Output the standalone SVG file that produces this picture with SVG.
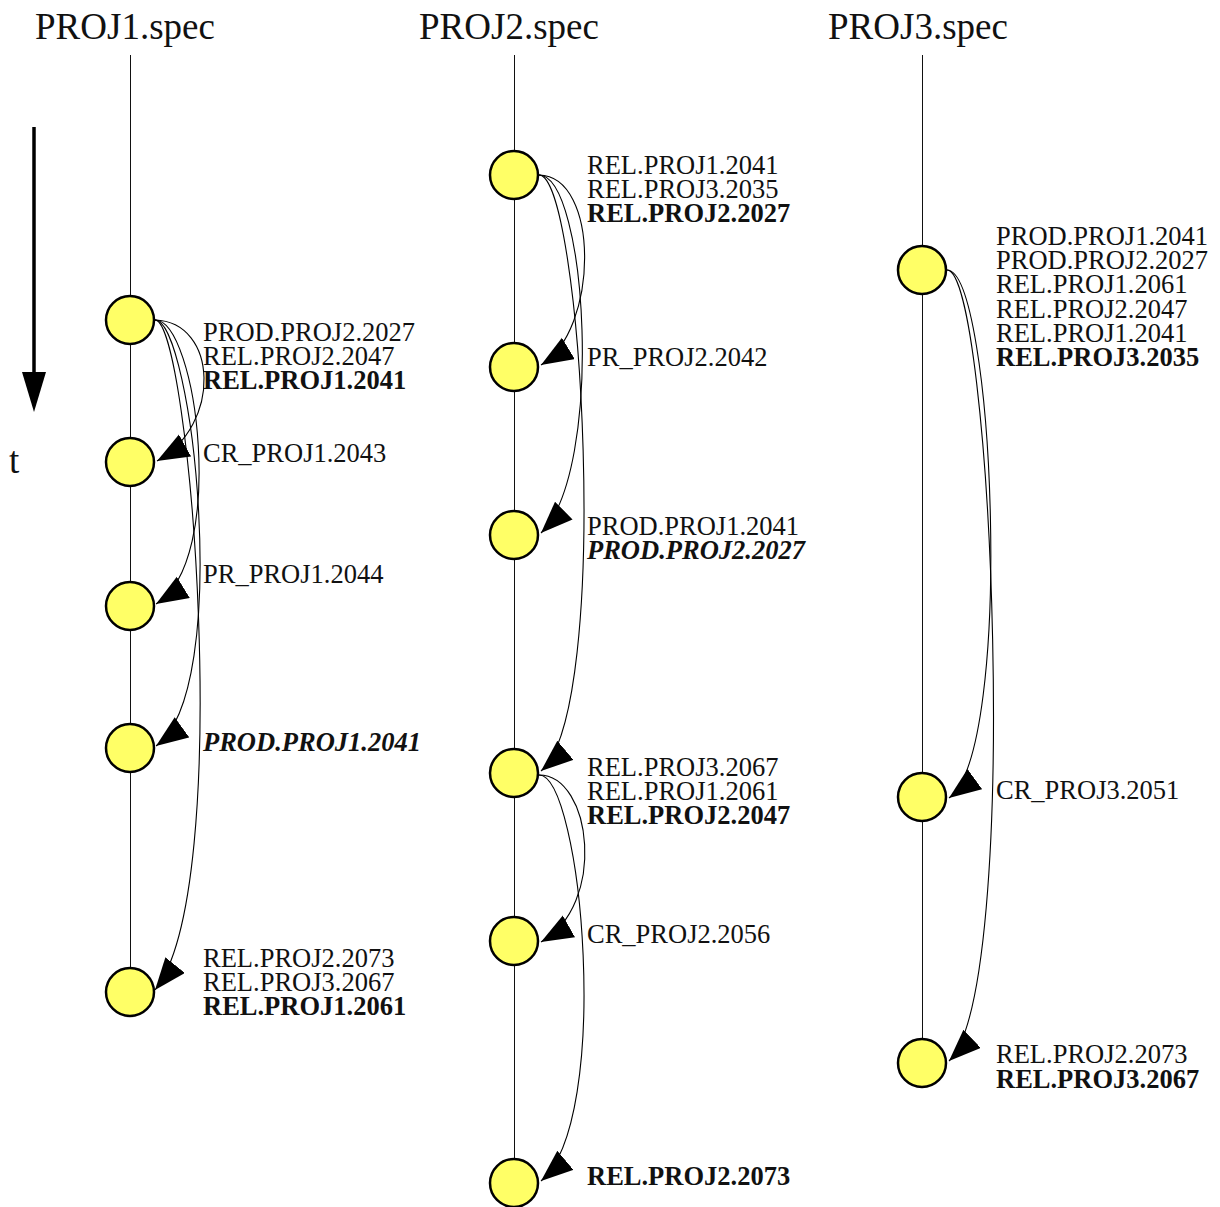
<svg xmlns="http://www.w3.org/2000/svg" width="1220" height="1207" viewBox="0 0 1220 1207">
<defs>
<style>
text{font-family:"Liberation Serif","Times New Roman",serif;fill:#111}
.t{font-size:37px}
.l{font-size:26.5px}
.b{font-weight:bold}
.bi{font-weight:bold;font-style:italic}
.axis{stroke:#111;stroke-width:1;fill:none}
.node{fill:#ffff66;stroke:#000;stroke-width:2.5}
.edge{fill:none;stroke:#000;stroke-width:1.1;marker-end:url(#ah)}
</style>
<marker id="ah" markerUnits="userSpaceOnUse" markerWidth="36" markerHeight="28" refX="32" refY="12.5" orient="auto">
<path d="M0,0 L32,12.5 L0,25 z" fill="#000"/>
</marker>
</defs>
<rect width="1220" height="1207" fill="#fff"/>

<g id="titles">
<text class="t" x="35" y="39">PROJ1.spec</text>
<text class="t" x="419" y="39">PROJ2.spec</text>
<text class="t" x="828" y="39">PROJ3.spec</text>
</g>

<g id="time-axis">
<line x1="34" y1="127" x2="34" y2="376" stroke="#000" stroke-width="3.5"/>
<polygon points="22,372 46,372 34,412" fill="#000"/>
<text class="t" x="9" y="473">t</text>
</g>

<g id="lifelines">
<line class="axis" x1="130.5" y1="55" x2="130.5" y2="992"/>
<line class="axis" x1="514.5" y1="55" x2="514.5" y2="1183"/>
<line class="axis" x1="922.5" y1="55" x2="922.5" y2="1063"/>
</g>

<g id="connectors">
<path class="edge" d="M155,320 C218,322 222,425 157,461"/>
<path class="edge" d="M155,320 C197,320 228,560 156,604"/>
<path class="edge" d="M155,320 C192,320 234,690 156,746"/>
<path class="edge" d="M155,320 C190,320 236,890 155,990"/>
<path class="edge" d="M539,175 C600,176 599,330 541,365"/>
<path class="edge" d="M539,175 C587,175 605,470 541,533"/>
<path class="edge" d="M539,175 C582,175 613,710 541,771"/>
<path class="edge" d="M539,775 C592,775 607,905 541,942"/>
<path class="edge" d="M539,775 C582,775 613,1120 541,1181"/>
<path class="edge" d="M947,270 C994,270 1015,750 949,798"/>
<path class="edge" d="M947,270 C992,270 1023,990 949,1061"/>
</g>

<g id="p1n1"><circle class="node" cx="130" cy="320" r="24"/>
<text class="l" x="203" y="341">PROD.PROJ2.2027</text>
<text class="l" x="203" y="365">REL.PROJ2.2047</text>
<text class="l b" x="203" y="389">REL.PROJ1.2041</text></g>
<g id="p1n2"><circle class="node" cx="130" cy="462" r="24"/>
<text class="l" x="203" y="462">CR_PROJ1.2043</text></g>
<g id="p1n3"><circle class="node" cx="130" cy="606" r="24"/>
<text class="l" x="203" y="583">PR_PROJ1.2044</text></g>
<g id="p1n4"><circle class="node" cx="130" cy="748" r="24"/>
<text class="l bi" x="203" y="751">PROD.PROJ1.2041</text></g>
<g id="p1n5"><circle class="node" cx="130" cy="992" r="24"/>
<text class="l" x="203" y="967">REL.PROJ2.2073</text>
<text class="l" x="203" y="991">REL.PROJ3.2067</text>
<text class="l b" x="203" y="1015">REL.PROJ1.2061</text></g>

<g id="p2n1"><circle class="node" cx="514" cy="175" r="24"/>
<text class="l" x="587" y="174">REL.PROJ1.2041</text>
<text class="l" x="587" y="198">REL.PROJ3.2035</text>
<text class="l b" x="587" y="222">REL.PROJ2.2027</text></g>
<g id="p2n2"><circle class="node" cx="514" cy="367" r="24"/>
<text class="l" x="587" y="366">PR_PROJ2.2042</text></g>
<g id="p2n3"><circle class="node" cx="514" cy="535" r="24"/>
<text class="l" x="587" y="535">PROD.PROJ1.2041</text>
<text class="l bi" x="587" y="559">PROD.PROJ2.2027</text></g>
<g id="p2n4"><circle class="node" cx="514" cy="773" r="24"/>
<text class="l" x="587" y="776">REL.PROJ3.2067</text>
<text class="l" x="587" y="800">REL.PROJ1.2061</text>
<text class="l b" x="587" y="824">REL.PROJ2.2047</text></g>
<g id="p2n5"><circle class="node" cx="514" cy="941" r="24"/>
<text class="l" x="587" y="943">CR_PROJ2.2056</text></g>
<g id="p2n6"><circle class="node" cx="514" cy="1183" r="24"/>
<text class="l b" x="587" y="1185">REL.PROJ2.2073</text></g>

<g id="p3n1"><circle class="node" cx="922" cy="270" r="24"/>
<text class="l" x="996" y="245">PROD.PROJ1.2041</text>
<text class="l" x="996" y="269">PROD.PROJ2.2027</text>
<text class="l" x="996" y="293">REL.PROJ1.2061</text>
<text class="l" x="996" y="318">REL.PROJ2.2047</text>
<text class="l" x="996" y="342">REL.PROJ1.2041</text>
<text class="l b" x="996" y="366">REL.PROJ3.2035</text></g>
<g id="p3n2"><circle class="node" cx="922" cy="797" r="24"/>
<text class="l" x="996" y="799">CR_PROJ3.2051</text></g>
<g id="p3n3"><circle class="node" cx="922" cy="1063" r="24"/>
<text class="l" x="996" y="1063">REL.PROJ2.2073</text>
<text class="l b" x="996" y="1088">REL.PROJ3.2067</text></g>
</svg>
